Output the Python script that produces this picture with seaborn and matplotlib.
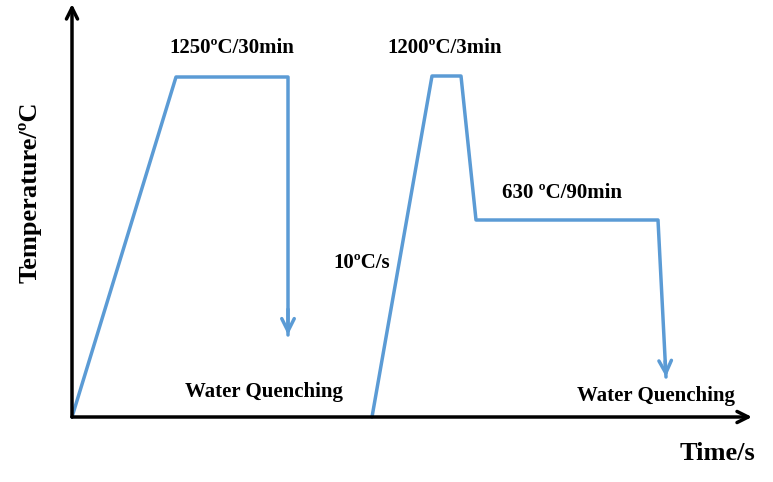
import matplotlib
matplotlib.use("Agg")
import matplotlib.pyplot as plt
import seaborn as sns
import pandas as pd

sns.set_style("white")
plt.rcParams["font.family"] = ["Liberation Serif", "DejaVu Serif"]
plt.rcParams["text.color"] = "black"

# schematic heat treatment route (arbitrary time / temperature units)
time_1 = [0, 104, 216, 216]
temp_1 = [0, 340, 340, 82]
time_2 = [300, 360, 389, 404, 586, 594]
temp_2 = [0, 341, 341, 197, 197, 40]

labels = ["1250ºC/30min", "1200ºC/3min", "630 ºC/90min", "10ºC/s",
          "Water Quenching", "Water Quenching"]
label_t = [160, 373, 490, 290, 192, 584]
label_T = [369, 369, 224, 154, 25, 21]

line_col = "#5B9BD5"

fig = plt.figure(figsize=(7.73, 4.82), dpi=100)
ax = fig.add_axes([0, 0, 1, 1])
ax.set_xlim(-72, 701)
ax.set_ylim(-65, 417)
ax.axis("off")

df1 = pd.DataFrame({"t": time_1, "T": temp_1})
df2 = pd.DataFrame({"t": time_2, "T": temp_2})
for df in (df1, df2):
    sns.lineplot(data=df, x="t", y="T", sort=False, estimator=None, errorbar=None,
                 color=line_col, lw=2.5, ax=ax)

# quench arrow heads
for df in (df1, df2):
    x0, y0 = df["t"].iloc[-2], df["T"].iloc[-2]
    x1, y1 = df["t"].iloc[-1], df["T"].iloc[-1]
    ax.annotate("", xy=(x1, y1), xytext=(x1 - (x1 - x0) * 0.1, y1 + (y0 - y1) * 0.1),
                arrowprops=dict(arrowstyle="->,head_length=0.9,head_width=0.45",
                                color=line_col, lw=2.5, shrinkA=0, shrinkB=0))

# axes with arrows
ax.annotate("", xy=(680, 0), xytext=(0, 0),
            arrowprops=dict(arrowstyle="->,head_length=0.8,head_width=0.4",
                            color="black", lw=2.5, shrinkA=0, shrinkB=0))
ax.annotate("", xy=(0, 413), xytext=(0, 0),
            arrowprops=dict(arrowstyle="->,head_length=0.8,head_width=0.4",
                            color="black", lw=2.5, shrinkA=0, shrinkB=0))

for s, x, y in zip(labels, label_t, label_T):
    ax.text(x, y, s, ha="center", va="center", fontsize=15, fontweight="bold")

ax.text(645, -36, "Time/s", ha="center", va="center", fontsize=19, fontweight="bold")
ax.text(-42, 225, "Temperature/ºC", ha="center", va="center", rotation=90,
        fontsize=19, fontweight="bold")

fig.savefig("out.png", dpi=100)
